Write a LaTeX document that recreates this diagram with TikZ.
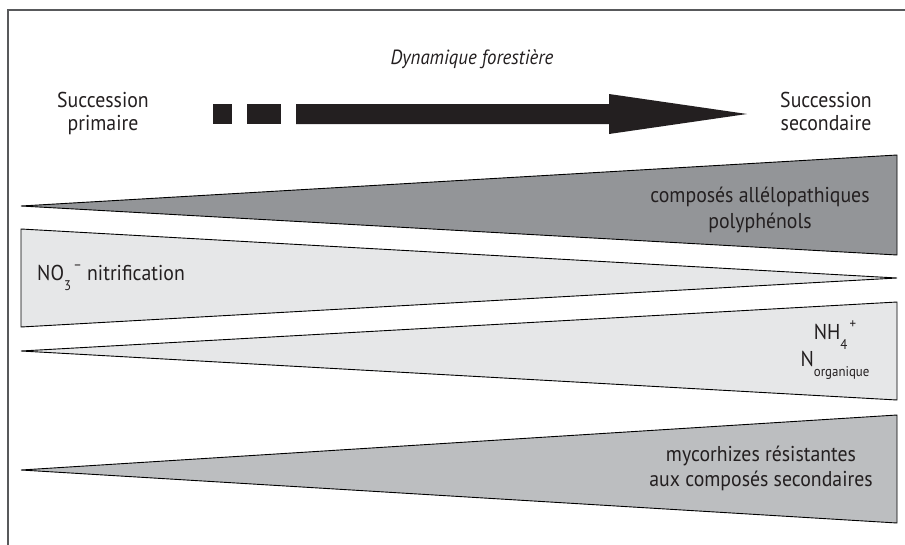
\documentclass[tikz,border=0pt]{standalone}
\usepackage{fontspec}
\setmainfont[FakeStretch=0.92]{PT Sans}
\definecolor{inkc}{HTML}{231F20}
\definecolor{framec}{HTML}{58595B}
\definecolor{darkg}{HTML}{939598}
\definecolor{lightg}{HTML}{E6E7E8}
\definecolor{midg}{HTML}{BCBEC0}
\newcommand\lowsub[1]{\raisebox{-0.5em}{\fontsize{14}{14}\selectfont #1}}
\newcommand\highsup[1]{\raisebox{0.5em}{\fontsize{14}{14}\selectfont #1}}
\begin{document}
\begin{tikzpicture}[x=1pt,y=-1pt,
  lbl/.style={inner sep=0pt, text=inkc, font=\fontsize{21.5}{24}\selectfont, anchor=base},
  wedge/.style={draw=black, line width=0.9pt, line join=miter},
  arrowc/.style={fill=inkc, draw=none}]
\useasboundingbox (0,0) rectangle (905,544);
\fill[white] (0,0) rectangle (905,544);
% frame (cut off at right and bottom)
\draw[framec, line width=2pt] (7.5,546) -- (7.5,10) -- (906,10);
% title
\node[lbl, font=\fontsize{20.5}{22}\selectfont\itshape] (title) at (472,64) {Dynamique forestière};
% left and right labels
\node[lbl] (sp1) at (103,107) {Succession};
\node[lbl] (sp2) at (103,130) {primaire};
\node[lbl] (ss1) at (826,107) {Succession};
\node[lbl] (ss2) at (826,130) {secondaire};
% arrow
\fill[arrowc] (213,104) rectangle (232,124);
\fill[arrowc] (247,104) rectangle (281,124);
\fill[arrowc] (296,104) -- (609,104) -- (609,94) -- (747,114) -- (609,134) -- (609,124) -- (296,124) -- cycle;
% wedges
\filldraw[wedge, fill=darkg] (21,206) -- (897,155) -- (897,255) -- cycle;
\filldraw[wedge, fill=lightg] (21,229) -- (897,278) -- (21,327) -- cycle;
\filldraw[wedge, fill=lightg] (21,351) -- (897,302) -- (897,400) -- cycle;
\filldraw[wedge, fill=midg] (21,470) -- (897,415) -- (897,523) -- cycle;
% wedge labels
\node[lbl] (c1) at (760,202) {composés allélopathiques};
\node[lbl] (c2) at (760,228) {polyphénols};
\node[lbl, anchor=base west] (no3) at (37,280) {NO\lowsub{3}\highsup{\,–} nitrification};
\node[lbl] (nh4) at (835,339) {NH\lowsub{4}\highsup{\,+}};
\node[lbl] (norg) at (835,366) {N\lowsub{organique}};
\node[lbl] (m1) at (761,461) {mycorhizes résistantes};
\node[lbl] (m2) at (761,486) {aux composés secondaires};
\end{tikzpicture}
\end{document}
